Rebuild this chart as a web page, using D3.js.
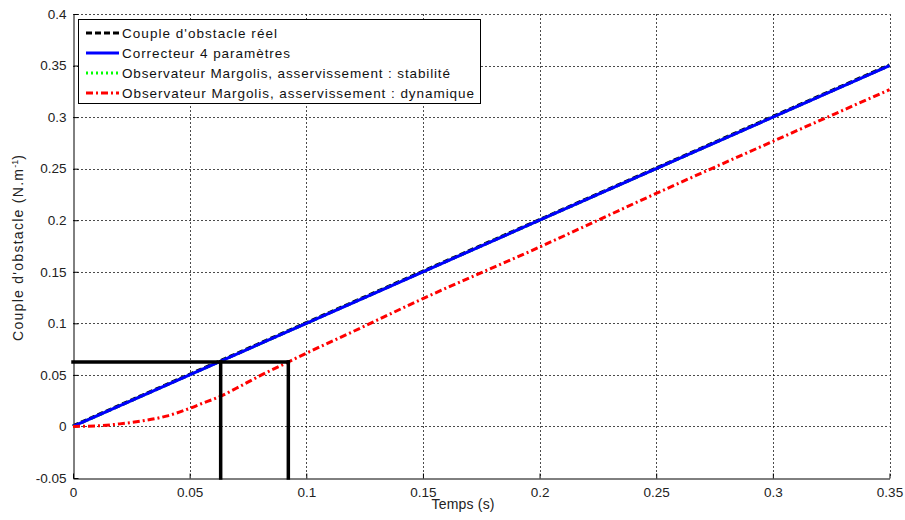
<!DOCTYPE html>
<html><head><meta charset="utf-8">
<script src="https://cdn.jsdelivr.net/npm/d3@7"></script>
<style>body{margin:0;background:#fff;} text{font-family:"Liberation Sans",Arial,sans-serif;}</style>
</head><body><svg id="c" width="905" height="520"></svg>
<script>
const xTicks = [0,0.05,0.1,0.15,0.2,0.25,0.3,0.35];
const yTicks = [-0.05,0,0.05,0.1,0.15,0.2,0.25,0.3,0.35,0.4];
const timeReal = [0,0.05,0.1,0.15,0.2,0.25,0.3,0.35];
const coupleReel = [0,0.05,0.1,0.15,0.2,0.25,0.3,0.35];
const correcteur4 = [0,0.05,0.1,0.15,0.2,0.25,0.3,0.35];
const margolisStab = [0,0.05,0.1,0.15,0.2,0.25,0.3,0.35];
const timeDyn = [0,0.01,0.02,0.03,0.04,0.05,0.055,0.063,0.07,0.08,0.0923,0.1,0.12,0.15,0.2,0.25,0.3,0.35];
const margolisDyn = [0,0.0005,0.0025,0.0055,0.010,0.0175,0.022,0.029,0.037,0.049,0.0625,0.071,0.092,0.124,0.174,0.226,0.2765,0.3266];
const markerLevel = 0.0625;
const markerT1 = 0.0633, markerT2 = 0.0923;
const legendLabels = ["Couple d'obstacle réel","Correcteur 4 paramètres","Observateur Margolis, asservissement : stabilité","Observateur Margolis, asservissement : dynamique"];
const legendWidths = [155,168,328,352];

const svg = d3.select("#c");
const L=73, R=889.5, T=14, B=478;
const x = d3.scaleLinear().domain([0,0.35]).range([L,R]);
const y = d3.scaleLinear().domain([-0.05,0.4]).range([B,T]);

// grid
const g = svg.append("g");
g.selectAll(".gx").data(xTicks.slice(1)).enter().append("line")
 .attr("x1",d=>Math.round(x(d))+0.5).attr("x2",d=>Math.round(x(d))+0.5).attr("y1",T).attr("y2",B)
 .attr("stroke","#000").attr("stroke-width",1).attr("stroke-dasharray","2,2").attr("opacity",0.7);
g.selectAll(".gy").data(yTicks.slice(1)).enter().append("line")
 .attr("y1",d=>Math.round(y(d))+0.5).attr("y2",d=>Math.round(y(d))+0.5).attr("x1",L).attr("x2",R)
 .attr("stroke","#000").attr("stroke-width",1).attr("stroke-dasharray","2,2").attr("opacity",0.7);

// axes
const fmt = d=>String(+d.toFixed(2));
const xa = svg.append("g").attr("transform",`translate(0,${B+0.5})`)
 .call(d3.axisBottom(x).tickValues(xTicks).tickFormat(fmt).tickSizeInner(-5).tickSizeOuter(0).tickPadding(9));
const ya = svg.append("g").attr("transform",`translate(${L+0.5},0)`)
 .call(d3.axisLeft(y).tickValues(yTicks).tickFormat(fmt).tickSizeInner(-5).tickSizeOuter(0).tickPadding(7));
[xa,ya].forEach(a=>{a.selectAll("text").attr("font-size",13.5).attr("fill","#222").style("font-family","Liberation Sans, Arial, sans-serif");a.select(".domain").attr("stroke","#000");a.selectAll(".tick line").attr("stroke","#000");});
xa.selectAll(".tick text").attr("dy","0.71em");

// lines
const line = (xs)=>d3.line().x((d,i)=>x(xs[i])).y(d=>y(d));
svg.append("path").datum(coupleReel).attr("d",line(timeReal)).attr("fill","none").attr("stroke","#000").attr("stroke-width",3.5).attr("stroke-dasharray","6,3").attr("transform","translate(0,-0.4)");
svg.append("path").datum(margolisStab).attr("d",line(timeReal)).attr("fill","none").attr("stroke","#00ff00").attr("stroke-width",3).attr("stroke-dasharray","2,3");
svg.append("path").datum(correcteur4).attr("d",line(timeReal)).attr("fill","none").attr("stroke","#0000ff").attr("stroke-width",3);
svg.append("path").datum(margolisDyn).attr("d",d3.line().curve(d3.curveMonotoneX).x((d,i)=>x(timeDyn[i])).y(d=>y(d))).attr("fill","none").attr("stroke","#ff0000").attr("stroke-width",3).attr("stroke-dasharray","7,3,2,3");

// marker lines
const mk = [[[0,markerLevel],[markerT2,markerLevel]],[[markerT1,-0.05],[markerT1,markerLevel]],[[markerT2,-0.05],[markerT2,markerLevel]]];
mk.forEach(seg=>{
 svg.append("path").attr("d",d3.line().x(d=>x(d[0])).y(d=>y(d[1]))(seg)).attr("stroke","#000").attr("stroke-width",3.5).attr("fill","none").attr("stroke-linecap","square");
});

// legend
const lg = svg.append("g");
lg.append("rect").attr("x",78.5).attr("y",19.5).attr("width",402).attr("height",84).attr("fill","#fff").attr("stroke","#000").attr("stroke-width",1);
const styles=[{c:"#000",d:"6,3"},{c:"#0000ff",d:null},{c:"#00ff00",d:"2,3"},{c:"#ff0000",d:"7,3,2,3"}];
legendLabels.forEach((t,i)=>{
 const yy=33+i*20;
 lg.append("line").attr("x1",86).attr("x2",119).attr("y1",yy).attr("y2",yy).attr("stroke",styles[i].c).attr("stroke-width",3).attr("stroke-dasharray",styles[i].d);
 lg.append("text").attr("x",122).attr("y",yy).attr("dy","0.35em").attr("font-size",13.5).attr("fill","#111")
   .attr("textLength",legendWidths[i]).attr("lengthAdjust","spacing").text(t);
});

// axis labels
svg.append("text").attr("x",463).attr("y",509).attr("text-anchor","middle").attr("font-size",14).attr("fill","#222")
  .attr("textLength",63).attr("lengthAdjust","spacing").text("Temps (s)");
const yl = svg.append("text").attr("transform","translate(23,248) rotate(-90)").attr("text-anchor","middle").attr("font-size",14).attr("fill","#222");
yl.append("tspan").attr("textLength",172).attr("lengthAdjust","spacing").text("Couple d'obstacle (N.m");
yl.append("tspan").attr("font-size",9).attr("dy",-5).text("-1");
yl.append("tspan").attr("dy",5).text(")");
</script></body></html>
